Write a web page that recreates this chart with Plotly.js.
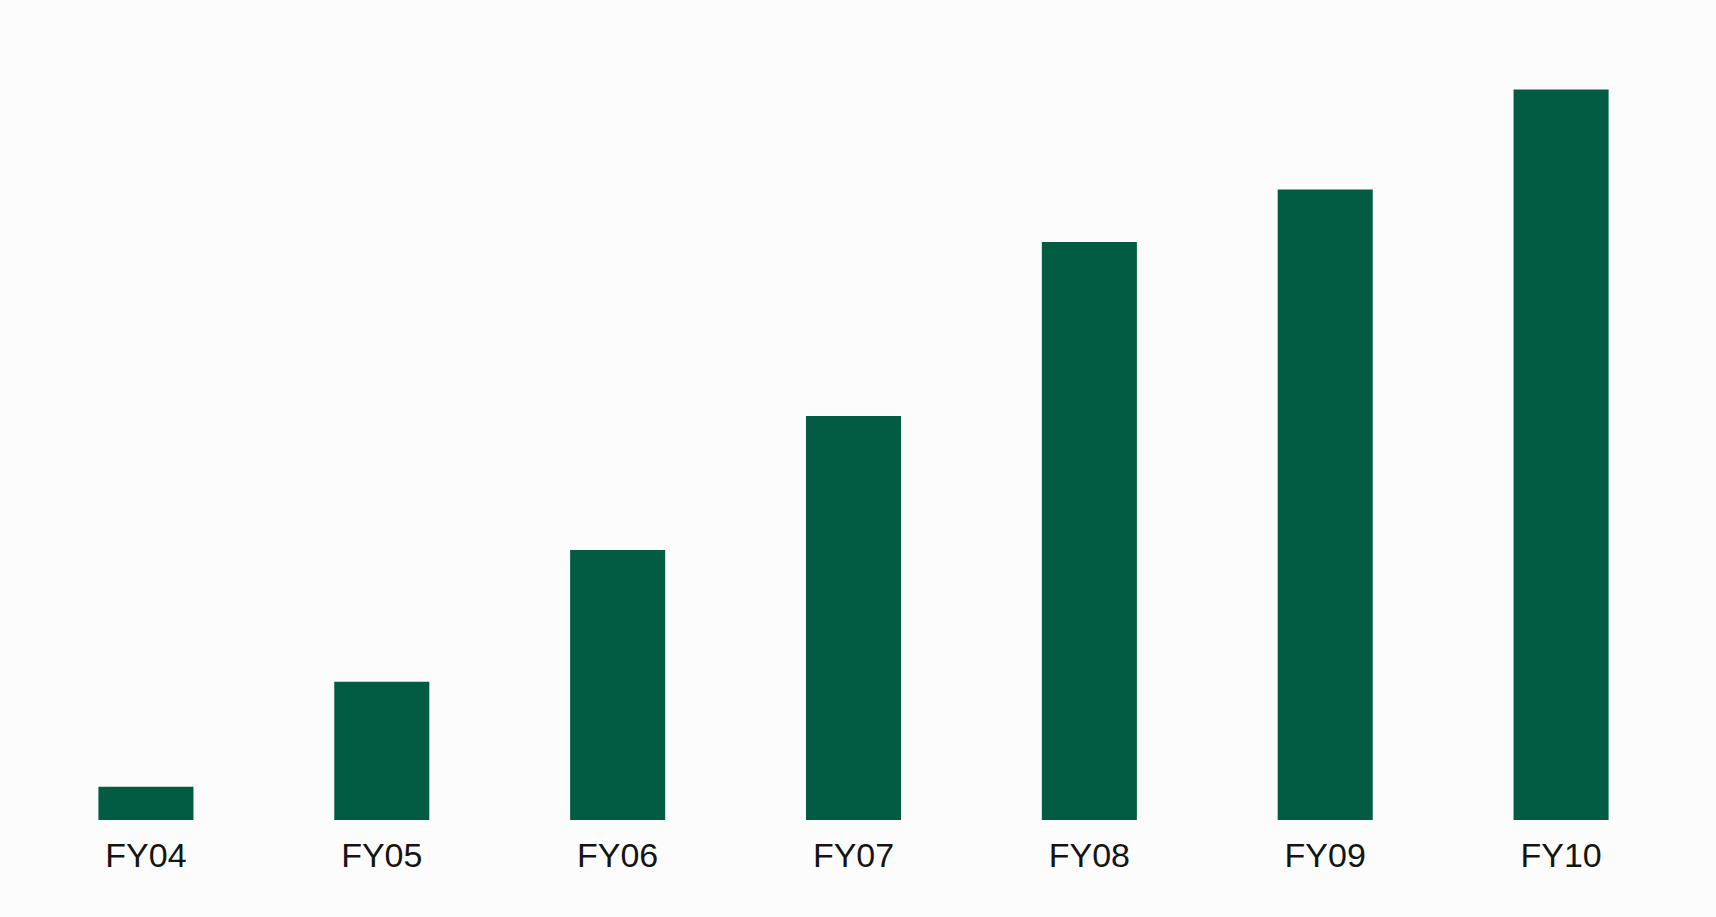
<!DOCTYPE html>
<html>
<head>
<meta charset="utf-8">
<script src="https://cdn.plot.ly/plotly-3.0.1.min.js"></script>
<style>
  html, body { margin: 0; padding: 0; background: #fcfcfc; }
  #chart { width: 1716px; height: 917px; }
</style>
</head>
<body>
<div id="chart"></div>
<script>
// fiscal years and bar values (relative units)
var years = ['FY04', 'FY05', 'FY06', 'FY07', 'FY08', 'FY09', 'FY10'];
var values = [40, 166, 324, 485, 694, 757, 877];

var barColor = '#025c44';

var trace = {
  x: years,
  y: values,
  type: 'bar',
  marker: { color: barColor },
  hoverinfo: 'x+y'
};

var layout = {
  width: 1716,
  height: 917,
  margin: { l: 28, r: 37, t: 60, b: 97 },
  paper_bgcolor: '#fcfcfc',
  plot_bgcolor: '#fcfcfc',
  bargap: 0.597,
  showlegend: false,
  xaxis: {
    type: 'category',
    showgrid: false,
    zeroline: false,
    showline: false,
    ticks: '',
    ticklabelstandoff: 12,
    tickfont: { family: 'Liberation Sans, Arial, sans-serif', size: 34, color: '#141414' }
  },
  yaxis: {
    range: [0, 912.4],
    showgrid: false,
    zeroline: false,
    showline: false,
    showticklabels: false,
    ticks: ''
  }
};

Plotly.newPlot('chart', [trace], layout, { displayModeBar: false, staticPlot: true });
</script>
</body>
</html>
